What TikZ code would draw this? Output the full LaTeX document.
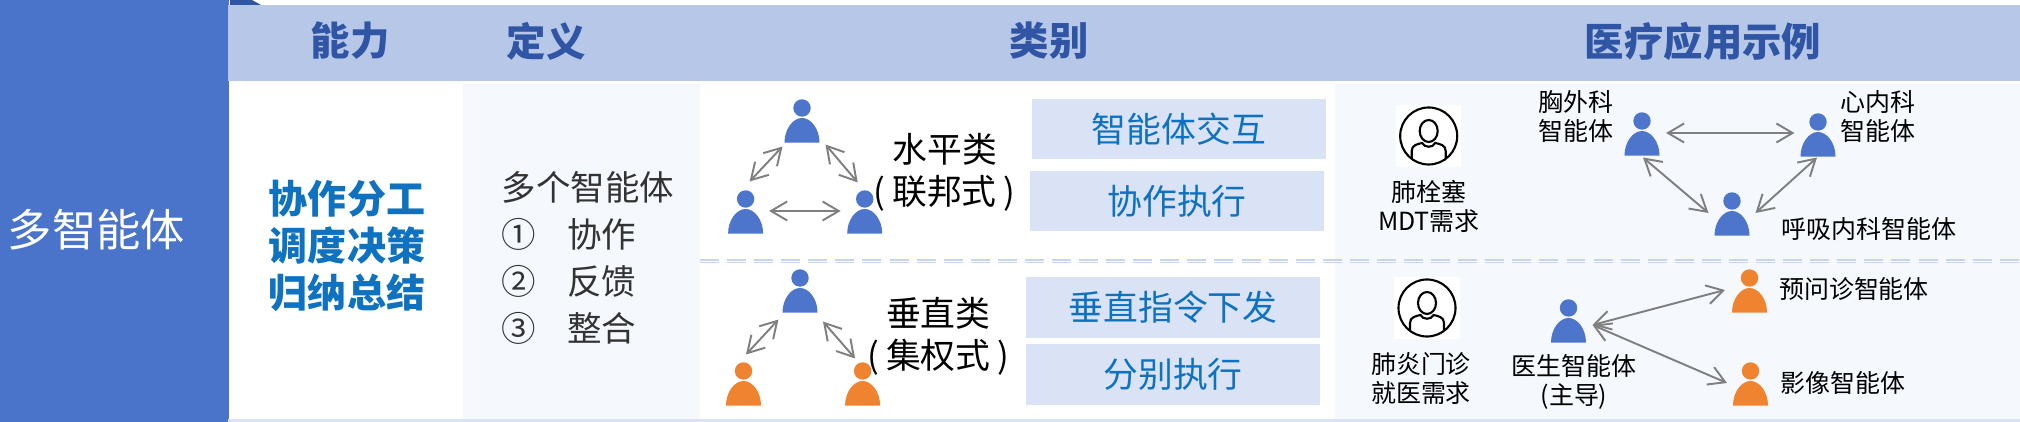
\documentclass[tikz,border=0pt]{standalone}
\usepackage{fontspec}
\setmainfont{Noto Sans CJK SC}
\usepackage{xcolor}
\usetikzlibrary{arrows.meta}
\definecolor{sideblue}{HTML}{4A74C9}
\definecolor{headband}{HTML}{B7C7E8}
\definecolor{headtext}{HTML}{2F55A4}
\definecolor{paleblue}{HTML}{F5F9FE}
\definecolor{tagblue}{HTML}{DAE3F5}
\definecolor{tagtext}{HTML}{0F72C0}
\definecolor{agentblue}{HTML}{4C75CB}
\definecolor{agentorange}{HTML}{F0832F}
\definecolor{linkgray}{HTML}{7F7F7F}
\definecolor{rowdash}{HTML}{C5D5F0}

\begin{document}
\begin{tikzpicture}[
  x=0.01cm, y=-0.01cm,
  panel/.style={inner sep=0, outer sep=0, minimum width=#1},
  hdr/.style={font=\fontsize{11.2}{13}\selectfont\bfseries, text=headtext, inner sep=0},
  skill/.style={font=\fontsize{11.1}{13.4}\selectfont\bfseries, text=tagtext, align=center, inner sep=0},
  defn/.style={font=\fontsize{9.8}{13.3}\selectfont, text=black!80, align=left, inner sep=0},
  kind/.style={font=\fontsize{9.9}{11.9}\selectfont, align=center, inner sep=0},
  tag/.style={fill=tagblue, text=tagtext, font=\fontsize{9.9}{12}\selectfont, minimum width=2.94cm, minimum height=0.6cm, inner sep=0},
  lab/.style={font=\fontsize{7.1}{8.25}\selectfont, align=center, inner sep=0},
  link/.style={{Straight Barb[length=4.6pt,width=5.4pt]}-{Straight Barb[length=4.6pt,width=5.4pt]}, draw=linkgray, line width=0.55pt},
  agent/.style={inner sep=0, outer sep=0, minimum width=0.35cm, minimum height=0.43cm,
    path picture={
      \begin{scope}[shift={(path picture bounding box.center)}, x=1cm, y=1cm]
        \fill[#1] (0,0.13) circle (0.087);
        \fill[#1] (-0.175,-0.215) .. controls (-0.175,-0.08) and (-0.09,0.03) .. (0,0.03)
          .. controls (0.09,0.03) and (0.175,-0.08) .. (0.175,-0.215) -- cycle;
      \end{scope}
    }},
  usericon/.style={fill=white, inner sep=0, outer sep=0, minimum width=0.65cm, minimum height=0.61cm,
    path picture={
      \begin{scope}[shift={(path picture bounding box.center)}, x=1cm, y=1cm, line width=0.6pt]
        \draw (0,0) ellipse (0.285 and 0.285);
        \draw (0,0.05) ellipse (0.09 and 0.11);
        \draw (-0.17,-0.225) -- (-0.17,-0.15) .. controls (-0.17,-0.09) and (-0.11,-0.08) .. (-0.065,-0.07)
          .. controls (-0.04,-0.12) and (0.04,-0.12) .. (0.065,-0.07)
          .. controls (0.11,-0.08) and (0.17,-0.09) .. (0.17,-0.15) -- (0.17,-0.225);
      \end{scope}
    }},
  rowline/.style={draw=rowdash, line width=0.45pt, dash pattern=on 5.4pt off 2.3pt, double=white, double distance=0.25pt}
]
\useasboundingbox (0,0) rectangle (2020,422);

\node[panel=2.29cm, fill=sideblue, minimum height=4.22cm] (side) at (114.5,211) {};
\node[text=white, font=\fontsize{12.6}{15}\selectfont, inner sep=0] (sidetext) at (96.5,230) {多智能体};
\fill[headtext] (230,0) -- (252,0) -- (261,5) -- (230,5) -- cycle;
\node[panel=17.91cm, fill=headband, minimum height=0.76cm] (band) at (1124.5,43) {};
\node[panel=15.57cm, fill=paleblue, minimum height=3.35cm] (body) at (1241.5,251.5) {};
\node[panel=6.345cm, fill=white, minimum height=3.35cm] (mid) at (1017.75,251.5) {};
\node[panel=17.91cm, fill=tagblue, minimum height=0.03cm] (foot) at (1124.5,420.5) {};

\node[hdr] (h1) at (350,41) {能力};
\node[hdr] (h2) at (546,41) {定义};
\node[hdr] (h3) at (1049,41) {类别};
\node[hdr] (h4) at (1703,41) {医疗应用示例};

\node[skill] (skills) at (347,246) {协作分工\\调度决策\\归纳总结};
\node[defn] (defs) at (588,258) {多个智能体\\①\hspace{0.9em}协作\\②\hspace{0.9em}反馈\\③\hspace{0.9em}整合};

\coordinate (dashl) at (700,261);
\coordinate (dashr) at (2020,261);
\draw[rowline] (dashl) -- (dashr);

\node[agent=agentblue] (a1) at (802,121) {};
\node[agent=agentblue] (a2) at (745.6,212) {};
\node[agent=agentblue] (a3) at (864.7,212) {};
\draw[link] ([shift={(-2,4)}]a1.south west) -- ([shift={(4,-9)}]a2.north);
\draw[link] ([shift={(6,2)}]a1.south east) -- ([shift={(-7,-8)}]a3.north);
\draw[link] ([shift={(6,-1)}]a2.east) -- ([shift={(-6.5,-1)}]a3.west);
\node[kind] (k1) at (944.6,172) {水平类\\(\kern0.2em 联邦式\kern0.2em)};
\node[tag] (t1) at (1178.8,129) {智能体交互};
\node[tag] (t2) at (1177,201) {协作执行};

\node[agent=agentblue] (b1) at (800,291) {};
\node[agent=agentorange] (b2) at (743.5,384) {};
\node[agent=agentorange] (b3) at (862.6,384) {};
\draw[link] ([shift={(-4,7)}]b1.south west) -- ([shift={(2.5,-8)}]b2.north);
\draw[link] ([shift={(5.5,9)}]b1.south east) -- ([shift={(-7.5,-4)}]b3.north);
\node[kind] (k2) at (938.3,336) {垂直类\\(\kern0.2em 集权式\kern0.2em)};
\node[tag] (t3) at (1173,307.5) {垂直指令下发};
\node[tag] (t4) at (1173,374.5) {分别执行};

\node[usericon] (u1) at (1428.7,136) {};
\node[lab] (need1) at (1429,206) {肺栓塞\\MDT需求};
\node[agent=agentblue] (c1) at (1642,134) {};
\node[agent=agentblue] (c2) at (1818,135) {};
\node[agent=agentblue] (c3) at (1732,214) {};
\draw[link] ([shift={(6.5,-1)}]c1.east) -- ([shift={(-6,-2)}]c2.west);
\draw[link] ([shift={(1,2)}]c1.south) -- ([shift={(-6,-1)}]c3.west);
\draw[link] ([shift={(-1,1)}]c2.south) -- ([shift={(6,-1)}]c3.east);
\node[lab] (l1) at (1576,116.5) {胸外科\\智能体};
\node[lab] (l2) at (1878,116.5) {心内科\\智能体};
\node[lab] (l3) at (1868.6,229) {呼吸内科智能体};

\node[usericon] (u2) at (1427,308) {};
\node[lab] (need2) at (1421,378.5) {肺炎门诊\\就医需求};
\node[agent=agentblue] (d1) at (1568.5,321) {};
\node[agent=agentorange] (d2) at (1749.5,291) {};
\node[agent=agentorange] (d3) at (1750.5,384) {};
\draw[link] ([shift={(6.5,4)}]d1.east) -- ([shift={(-7,-1)}]d2.west);
\draw[link] ([shift={(6.5,4)}]d1.east) -- ([shift={(-6,-1)}]d3.west);
\node[lab] (l4) at (1574,382) {医生智能体\\(主导)};
\node[lab] (l5) at (1854,289) {预问诊智能体};
\node[lab] (l6) at (1843,383) {影像智能体};
\end{tikzpicture}
\end{document}
